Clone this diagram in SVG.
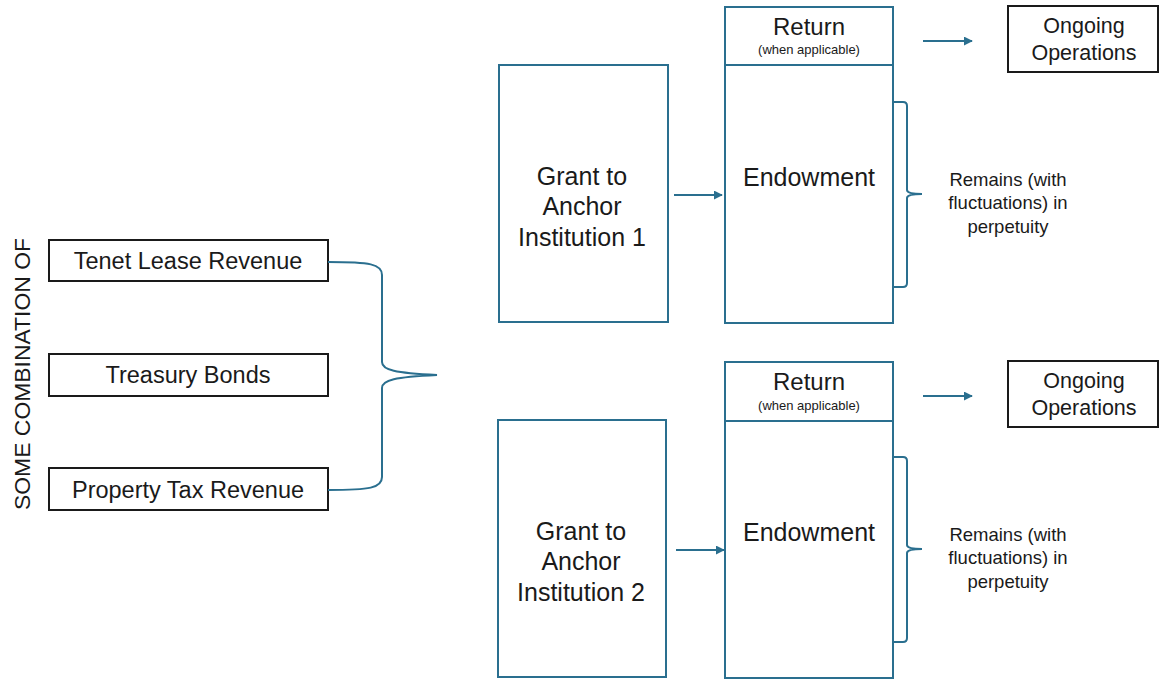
<svg xmlns="http://www.w3.org/2000/svg" width="1159" height="679" viewBox="0 0 1159 679">
<style>
text{font-family:"Liberation Sans",Arial,sans-serif;fill:#1a1a1a;text-anchor:middle}
.bk{fill:#fff;stroke:#1a1a1a;stroke-width:2}
.bl{fill:#fff;stroke:#2a6f8f;stroke-width:2}
.ln{fill:none;stroke:#2a6f8f;stroke-width:2}
.tl{font-size:23.5px}
.tg{font-size:25px}
.tr{font-size:24px}
.to{font-size:21.5px}
.tm{font-size:18.5px}
.tw{font-size:13px}
</style>
<defs>
<marker id="ah" viewBox="0 0 10 10" refX="9" refY="5" markerWidth="4.5" markerHeight="4.5" orient="auto" markerUnits="strokeWidth">
<path d="M0,0 L10,5 L0,10 z" fill="#2a6f8f"/>
</marker>
</defs>
<text style="font-size:22px" transform="translate(30,374) rotate(-90)" textLength="272" lengthAdjust="spacingAndGlyphs">SOME COMBINATION OF</text>
<g id="tenet"><rect class="bk" x="49" y="240" width="279" height="41"/><text class="tl" x="188" y="269">Tenet Lease Revenue</text></g>
<g id="treasury"><rect class="bk" x="49" y="354" width="279" height="42"/><text class="tl" x="188" y="383">Treasury Bonds</text></g>
<g id="property"><rect class="bk" x="49" y="468" width="279" height="42"/><text class="tl" x="188" y="498">Property Tax Revenue</text></g>
<g id="grant1"><rect class="bl" x="499" y="65" width="169" height="257"/><text class="tg" x="582" y="185">Grant to</text><text class="tg" x="582" y="215">Anchor</text><text class="tg" x="582" y="246">Institution 1</text></g>
<g id="grant2"><rect class="bl" x="498" y="420" width="168" height="257"/><text class="tg" x="581" y="540">Grant to</text><text class="tg" x="581" y="570">Anchor</text><text class="tg" x="581" y="601">Institution 2</text></g>
<g id="return1"><rect class="bl" x="725" y="7" width="168" height="58"/><text class="tr" x="809" y="35">Return</text><text class="tw" x="809" y="54">(when applicable)</text></g>
<g id="endow1"><rect class="bl" x="725" y="65" width="168" height="258"/><text class="tg" x="809" y="186">Endowment</text></g>
<g id="return2"><rect class="bl" x="725" y="362" width="168" height="59"/><text class="tr" x="809" y="390">Return</text><text class="tw" x="809" y="410">(when applicable)</text></g>
<g id="endow2"><rect class="bl" x="725" y="421" width="168" height="257"/><text class="tg" x="809" y="541">Endowment</text></g>
<g id="ongoing1"><rect class="bk" x="1008" y="6" width="150" height="66"/><text class="to" x="1084" y="33">Ongoing</text><text class="to" x="1084" y="60">Operations</text></g>
<g id="ongoing2"><rect class="bk" x="1008" y="361" width="150" height="66"/><text class="to" x="1084" y="388">Ongoing</text><text class="to" x="1084" y="415">Operations</text></g>
<g id="remains1"><text class="tm" x="1008" y="186">Remains (with</text><text class="tm" x="1008" y="209">fluctuations) in</text><text class="tm" x="1008" y="233">perpetuity</text></g>
<g id="remains2"><text class="tm" x="1008" y="541">Remains (with</text><text class="tm" x="1008" y="564">fluctuations) in</text><text class="tm" x="1008" y="588">perpetuity</text></g>
<g id="connectors">
<path class="ln" d="M328,262 C370,262 382,264 382,275 L382,362 C382,370 395,373 437,375 C395,377 382,380 382,388 L382,477 C382,488 370,490 328,490"/>
<path class="ln" d="M674,195 L722,195" marker-end="url(#ah)"/>
<path class="ln" d="M676,550 L724,550" marker-end="url(#ah)"/>
<path class="ln" d="M923,41 L972,41" marker-end="url(#ah)"/>
<path class="ln" d="M923,396 L972,396" marker-end="url(#ah)"/>
<path class="ln" d="M893,102 L903,102 Q907,102 907,106 L907,190 Q907,194 922,194 Q907,194 907,198 L907,283 Q907,287 903,287 L893,287"/>
<path class="ln" d="M893,457 L903,457 Q907,457 907,461 L907,545 Q907,549 922,549 Q907,549 907,553 L907,638 Q907,642 903,642 L893,642"/>
</g>
</svg>
